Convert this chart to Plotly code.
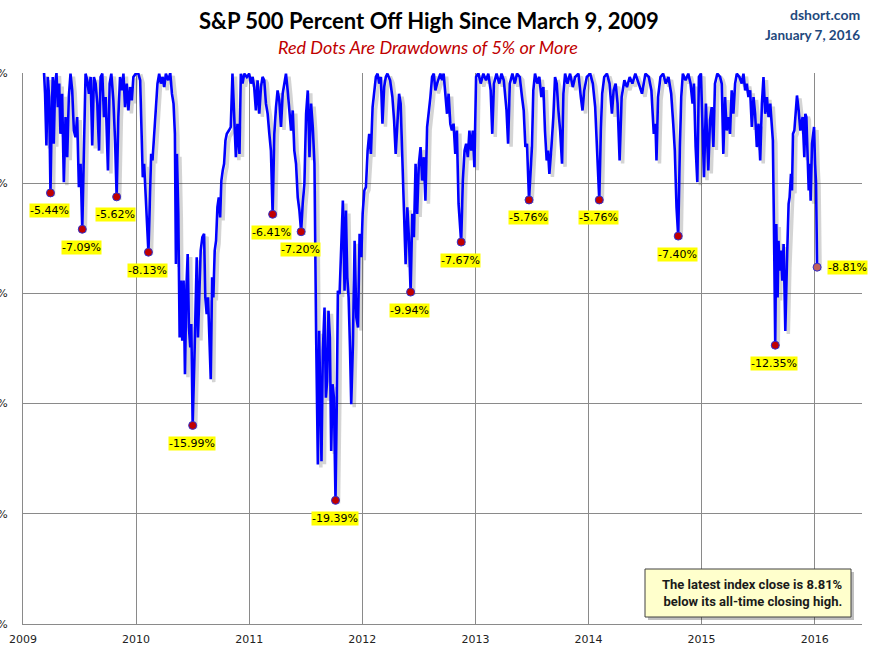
import plotly.graph_objects as go

# ---------------- data (fractional year, percent off high) ----------------
seg_2009 = [
    (2009.186, 0.0), (2009.195, -0.94), (2009.207, -3.29), (2009.219, -0.18), (2009.231, -1.09),
    (2009.243, -5.44), (2009.254, -1.85), (2009.263, -0.18), (2009.272, -3.21), (2009.284, -0.48),
    (2009.296, 0.0), (2009.308, -1.55), (2009.320, -0.48), (2009.331, -2.76), (2009.346, -0.94),
    (2009.361, -4.95), (2009.376, -2.00), (2009.391, -3.82), (2009.405, -1.09), (2009.420, -0.03),
    (2009.435, -0.79), (2009.450, -2.61), (2009.464, -2.91), (2009.479, -2.00), (2009.494, -5.18),
    (2009.509, -4.12), (2009.524, -7.09), (2009.538, -4.12), (2009.553, -0.03), (2009.568, -0.33),
    (2009.583, -0.94), (2009.598, -0.18), (2009.612, -3.29), (2009.627, -0.18), (2009.642, -0.48),
    (2009.657, -1.39), (2009.672, -3.52), (2009.686, -0.18), (2009.701, -0.03), (2009.716, -2.00),
    (2009.731, -1.09), (2009.751, -4.42), (2009.766, -0.48), (2009.781, -0.03), (2009.799, -1.24),
    (2009.814, -3.06), (2009.828, -5.62), (2009.843, -2.00), (2009.858, -0.18), (2009.873, -0.79),
    (2009.888, -0.03), (2009.902, -1.55), (2009.917, -0.48), (2009.932, -1.70), (2009.947, -0.64),
    (2009.962, -1.24), (2009.976, -0.18), (2009.997, -0.03),
]
seg_2010 = [
    (2010.018, 0.0), (2010.036, -0.33), (2010.047, -2.61), (2010.059, -4.73), (2010.071, -4.12),
    (2010.083, -5.33), (2010.095, -6.70), (2010.109, -8.13), (2010.121, -5.94), (2010.133, -3.67),
    (2010.145, -3.97), (2010.160, -2.61), (2010.175, -1.85), (2010.189, -0.48), (2010.204, -0.03),
    (2010.219, -0.48), (2010.234, -0.18), (2010.249, -0.64), (2010.263, -0.03), (2010.284, -0.33),
    (2010.302, 0.0), (2010.317, -0.94), (2010.331, -1.39), (2010.343, -2.76), (2010.352, -8.67),
    (2010.361, -3.67), (2010.373, -6.39), (2010.385, -12.00), (2010.396, -9.42), (2010.408, -12.15),
    (2010.420, -9.42), (2010.432, -13.67), (2010.444, -9.88), (2010.456, -8.21), (2010.467, -11.55),
    (2010.479, -12.45), (2010.488, -11.39), (2010.500, -15.99), (2010.518, -12.45), (2010.536, -8.36),
    (2010.547, -12.00), (2010.559, -9.42), (2010.571, -8.06), (2010.586, -7.45), (2010.601, -7.30),
    (2010.612, -10.18), (2010.624, -10.94), (2010.636, -10.18), (2010.648, -12.45), (2010.660, -13.89),
    (2010.672, -9.27), (2010.683, -10.18), (2010.695, -8.06), (2010.707, -7.61), (2010.719, -6.09),
    (2010.731, -5.64), (2010.743, -6.55), (2010.754, -4.88), (2010.766, -4.42), (2010.778, -4.12),
    (2010.790, -3.06), (2010.802, -2.76), (2010.820, -2.61), (2010.837, -2.45), (2010.852, -0.03),
    (2010.867, -2.15), (2010.882, -3.82), (2010.896, -2.30), (2010.914, -3.67), (2010.926, -0.03),
    (2010.941, -0.48), (2010.956, -0.03), (2010.979, -0.18),
]
seg_2011 = [
    (2011.000, -0.03), (2011.015, -0.48), (2011.030, -0.18), (2011.044, -0.64), (2011.059, -1.70),
    (2011.074, -0.33), (2011.089, -1.85), (2011.104, -0.64), (2011.118, -0.18), (2011.133, -0.33),
    (2011.148, -1.39), (2011.163, -1.85), (2011.178, -2.76), (2011.192, -3.52), (2011.207, -6.41),
    (2011.222, -2.76), (2011.237, -1.55), (2011.251, -0.79), (2011.266, -1.24), (2011.281, -2.45),
    (2011.296, -0.94), (2011.311, -0.48), (2011.325, -0.03), (2011.340, -0.79), (2011.355, -1.55),
    (2011.370, -2.61), (2011.385, -1.70), (2011.399, -3.52), (2011.414, -4.12), (2011.429, -5.64),
    (2011.444, -6.24), (2011.459, -7.20), (2011.473, -5.94), (2011.488, -5.03), (2011.503, -1.85),
    (2011.518, -0.79), (2011.533, -3.82), (2011.547, -1.39), (2011.562, -2.45), (2011.577, -4.12),
    (2011.592, -12.00), (2011.607, -17.76), (2011.618, -11.70), (2011.630, -15.03), (2011.639, -17.61),
    (2011.651, -12.61), (2011.666, -10.64), (2011.678, -14.73), (2011.689, -13.97), (2011.701, -10.79),
    (2011.713, -12.00), (2011.725, -17.15), (2011.737, -14.12), (2011.749, -14.73), (2011.763, -19.39),
    (2011.775, -14.73), (2011.784, -9.88), (2011.799, -10.03), (2011.814, -8.06), (2011.828, -5.79),
    (2011.843, -9.88), (2011.855, -6.24), (2011.867, -9.27), (2011.879, -10.18), (2011.891, -12.45),
    (2011.902, -15.03), (2011.917, -12.30), (2011.932, -7.61), (2011.947, -11.09), (2011.962, -11.55),
    (2011.976, -7.30), (2011.991, -8.36),
]
seg_2012 = [
    (2012.003, -6.39), (2012.018, -5.33), (2012.032, -5.18), (2012.047, -3.52), (2012.061, -2.76),
    (2012.076, -3.67), (2012.091, -1.55), (2012.105, -0.94), (2012.120, -0.18), (2012.135, -0.03),
    (2012.149, -0.48), (2012.164, -0.18), (2012.178, -2.30), (2012.193, -0.64), (2012.208, -0.18),
    (2012.222, -0.03), (2012.246, -0.33), (2012.266, -1.09), (2012.281, -2.15), (2012.295, -3.67),
    (2012.310, -2.00), (2012.325, -0.94), (2012.339, -1.39), (2012.354, -4.12), (2012.368, -5.94),
    (2012.383, -8.67), (2012.398, -6.09), (2012.412, -7.45), (2012.427, -9.94), (2012.442, -6.39),
    (2012.456, -7.45), (2012.471, -4.12), (2012.485, -6.39), (2012.500, -4.12), (2012.515, -3.36),
    (2012.529, -4.88), (2012.544, -3.82), (2012.558, -5.79), (2012.573, -2.45), (2012.588, -1.85),
    (2012.602, -1.09), (2012.617, -0.18), (2012.632, -0.03), (2012.646, -0.79), (2012.661, -0.48),
    (2012.690, -0.03), (2012.705, -0.33), (2012.719, -0.03), (2012.734, -1.09), (2012.749, -1.85),
    (2012.763, -0.94), (2012.778, -2.30), (2012.792, -2.61), (2012.807, -2.30), (2012.822, -3.67),
    (2012.836, -2.61), (2012.851, -5.94), (2012.874, -7.67), (2012.889, -4.88), (2012.904, -3.52),
    (2012.918, -3.21), (2012.933, -3.82), (2012.947, -2.61), (2012.962, -3.52), (2012.977, -2.61),
    (2012.991, -4.27),
]
seg_2013 = [
    (2013.006, -0.18), (2013.026, 0.0), (2013.047, -0.48), (2013.070, -0.03), (2013.094, -0.33),
    (2013.114, -0.03), (2013.135, -0.79), (2013.149, -2.76), (2013.164, -0.48), (2013.187, -0.03),
    (2013.211, -0.48), (2013.231, -0.03), (2013.251, -0.33), (2013.275, -1.70), (2013.289, -3.21),
    (2013.304, -0.48), (2013.327, -0.03), (2013.348, -0.48), (2013.368, -0.03), (2013.392, -0.18),
    (2013.412, -1.09), (2013.427, -1.70), (2013.442, -3.36), (2013.456, -3.21), (2013.474, -5.76),
    (2013.500, -3.36), (2013.512, -0.79), (2013.527, -0.03), (2013.547, -0.48), (2013.565, -0.18),
    (2013.583, -1.09), (2013.601, -0.64), (2013.615, -2.61), (2013.630, -3.97), (2013.642, -3.52),
    (2013.654, -4.58), (2013.672, -3.36), (2013.689, -2.00), (2013.704, -0.18), (2013.719, -0.48),
    (2013.734, -1.70), (2013.749, -2.61), (2013.766, -4.12), (2013.778, -0.94), (2013.793, -0.03),
    (2013.814, -0.48), (2013.837, -0.03), (2013.861, -0.64), (2013.882, -0.18), (2013.911, -0.03),
    (2013.932, -1.09), (2013.947, -1.70), (2013.962, -0.79), (2013.985, -0.18),
]
seg_2014 = [
    (2014.015, -0.03), (2014.038, -0.48), (2014.059, -1.55), (2014.074, -3.06), (2014.083, -4.12),
    (2014.095, -5.76), (2014.109, -2.61), (2014.121, -0.94), (2014.139, -0.18), (2014.163, -0.03),
    (2014.186, -0.48), (2014.207, -1.85), (2014.222, -0.79), (2014.240, -0.48), (2014.257, -1.39),
    (2014.275, -3.97), (2014.293, -1.09), (2014.317, -0.33), (2014.340, -0.64), (2014.364, -0.18),
    (2014.388, -0.48), (2014.414, -0.03), (2014.444, -0.48), (2014.473, -0.94), (2014.503, -0.03),
    (2014.533, -0.18), (2014.556, -0.79), (2014.577, -2.76), (2014.592, -2.30), (2014.601, -3.97),
    (2014.615, -1.09), (2014.636, -0.18), (2014.660, -0.03), (2014.683, -0.48), (2014.707, -0.18),
    (2014.731, -0.94), (2014.749, -2.30), (2014.763, -3.52), (2014.778, -6.09), (2014.793, -7.40),
    (2014.808, -3.36), (2014.820, -1.09), (2014.834, -0.03), (2014.858, -0.33), (2014.882, -0.03),
    (2014.902, -0.48), (2014.920, -1.39), (2014.932, -0.48), (2014.947, -3.36), (2014.962, -4.95),
    (2014.976, -0.18), (2014.994, -0.03),
]
seg_2015 = [
    (2015.009, -2.61), (2015.021, -4.73), (2015.038, -1.39), (2015.059, -4.42), (2015.074, -2.15),
    (2015.089, -1.55), (2015.104, -3.36), (2015.118, -0.48), (2015.139, -0.03), (2015.163, -0.18),
    (2015.178, -0.48), (2015.192, -3.67), (2015.207, -1.09), (2015.222, -2.61), (2015.237, -2.00),
    (2015.251, -2.76), (2015.266, -0.79), (2015.281, -1.85), (2015.296, -0.48), (2015.311, -0.03),
    (2015.334, -0.18), (2015.355, -0.48), (2015.370, -0.03), (2015.385, -0.79), (2015.399, -0.48),
    (2015.414, -1.09), (2015.429, -0.79), (2015.444, -2.45), (2015.459, -1.09), (2015.473, -1.85),
    (2015.488, -3.36), (2015.503, -2.30), (2015.518, -3.97), (2015.533, -1.39), (2015.547, -0.18),
    (2015.562, -1.85), (2015.577, -1.09), (2015.592, -2.00), (2015.607, -1.39), (2015.621, -2.61),
    (2015.630, -3.06), (2015.639, -6.70), (2015.651, -12.35), (2015.660, -6.85), (2015.672, -10.18),
    (2015.680, -7.61), (2015.689, -8.97), (2015.701, -8.06), (2015.713, -9.42), (2015.725, -7.76),
    (2015.740, -11.70), (2015.754, -8.67), (2015.769, -5.94), (2015.778, -5.64), (2015.790, -4.58),
    (2015.799, -5.33), (2015.808, -2.76), (2015.820, -2.61), (2015.831, -1.55), (2015.843, -1.02),
    (2015.858, -1.70), (2015.873, -2.61), (2015.882, -2.30), (2015.893, -2.00), (2015.908, -3.82),
    (2015.917, -1.85), (2015.926, -2.00), (2015.938, -4.12), (2015.947, -5.33), (2015.956, -4.12),
    (2015.964, -5.79), (2015.976, -3.21), (2015.985, -2.61), (2015.994, -2.45),
]
seg_2016 = [(2016.003, -4.12), (2016.012, -5.03), (2016.021, -8.81)]

dot_years = [2009.243, 2009.524, 2009.828, 2010.109, 2010.500, 2011.207, 2011.459, 2011.763,
             2012.427, 2012.874, 2013.474, 2014.095, 2014.793, 2015.651, 2016.021]
dot_values = [-5.44, -7.09, -5.62, -8.13, -15.99, -6.41, -7.20, -19.39,
              -9.94, -7.67, -5.76, -5.76, -7.40, -12.35, -8.81]

year_ticks = [2009, 2010, 2011, 2012, 2013, 2014, 2015, 2016]
year_labels = ["2009", "2010", "2011", "2012", "2013", "2014", "2015", "2016"]
pct_ticks = [0, -5, -10, -15, -20, -25]
pct_labels = ["0%", "-5%", "-10%", "-15%", "-20%", "-25%"]

title_text = "S&P 500 Percent Off High Since March 9, 2009"
subtitle_text = "Red Dots Are Drawdowns of 5% or More"
source_text = "dshort.com"
date_text = "January 7, 2016"
note_text = "The latest index close is 8.81%<br>below its all-time closing high."

# ---------------- build ----------------
points = seg_2009 + seg_2010 + seg_2011 + seg_2012 + seg_2013 + seg_2014 + seg_2015 + seg_2016
xs = [p[0] for p in points]
ys = [p[1] for p in points]

W, H = 871, 653
ML, MR, MT, MB = 23, 9, 73, 29
X_RANGE = [2009.0, 2016.418]
Y_RANGE = [-25.0, 0.0]
pw = W - ML - MR
ph = H - MT - MB
yr_per_px = (X_RANGE[1] - X_RANGE[0]) / pw
pct_per_px = (Y_RANGE[1] - Y_RANGE[0]) / ph
sh = 3  # shadow offset in px

fig = go.Figure()

# drop shadow of the line
fig.add_trace(go.Scatter(x=xs, y=ys, mode="lines", xaxis="x2", yaxis="y2",
                         line=dict(color="rgba(60,60,60,0.22)", width=3.5),
                         hoverinfo="skip", showlegend=False))
# main line
fig.add_trace(go.Scatter(x=xs, y=ys, mode="lines", xaxis="x3", yaxis="y3",
                         line=dict(color="#0000FF", width=2.6),
                         showlegend=False))
# dots
dot_colors = ["#C00000"] * (len(dot_values) - 1) + ["#C0605A"]
fig.add_trace(go.Scatter(x=dot_years, y=dot_values, mode="markers", xaxis="x3", yaxis="y3",
                         marker=dict(size=8, color=dot_colors,
                                     line=dict(color="#3030D0", width=1)),
                         showlegend=False))

annotations = []
for i, (dx, dv) in enumerate(zip(dot_years, dot_values)):
    last = i == len(dot_values) - 1
    annotations.append(dict(
        x=dx, y=dv, xref="x", yref="y", text=f"{dv:.2f}%", showarrow=False,
        xanchor="left" if last else "center", yanchor="middle",
        xshift=10 if last else -1, yshift=0 if last else -18,
        bgcolor="#FFFF00", borderpad=0,
        font=dict(family="DejaVu Sans, Verdana, sans-serif", size=11, color="#000000")))


def px_x(p):
    return (p - ML) / pw


def px_y(p):
    return (H - MB - p) / ph


annotations += [
    dict(text=title_text, x=px_x(429), y=px_y(20), xref="paper", yref="paper",
         showarrow=False, xanchor="center", yanchor="middle",
         font=dict(family="Lato, Noto Sans, sans-serif", size=22, color="#000000", weight="bold")),
    dict(text=subtitle_text, x=px_x(428), y=px_y(47), xref="paper", yref="paper",
         showarrow=False, xanchor="center", yanchor="middle",
         font=dict(family="Lato, Noto Sans, sans-serif", size=18, color="#C00000", style="italic")),
    dict(text=source_text, x=px_x(862), y=px_y(15), xref="paper", yref="paper",
         showarrow=False, xanchor="right", yanchor="middle",
         font=dict(family="Lato, Noto Sans, sans-serif", size=14, color="#1F497D", weight="bold")),
    dict(text=date_text, x=px_x(862), y=px_y(35), xref="paper", yref="paper",
         showarrow=False, xanchor="right", yanchor="middle",
         font=dict(family="Lato, Noto Sans, sans-serif", size=13.5, color="#1F497D", weight="bold")),
    dict(text=note_text, x=px_x(845), y=px_y(593), xref="paper", yref="paper",
         showarrow=False, xanchor="right", yanchor="middle", align="right",
         font=dict(family="Liberation Sans Narrow, Arial Narrow, Roboto, sans-serif", size=13,
                   color="#1a1a1a", weight="bold")),
]

shapes = [
    dict(type="rect", xref="paper", yref="paper",
         x0=px_x(648), x1=px_x(854), y0=px_y(620), y1=px_y(572),
         fillcolor="rgba(0,0,0,0.25)", line=dict(width=0), layer="above"),
    dict(type="rect", xref="paper", yref="paper",
         x0=px_x(645), x1=px_x(851), y0=px_y(617), y1=px_y(569),
         fillcolor="#FFFFCC", line=dict(color="#404040", width=1), layer="above"),
]

grid_col = "#8A8A8A"
tick_font = dict(family="DejaVu Sans, Tahoma, sans-serif", size=11, color="#222222")

fig.update_layout(
    width=W, height=H,
    margin=dict(l=ML, r=MR, t=MT, b=MB, autoexpand=False),
    paper_bgcolor="white", plot_bgcolor="white",
    template="none",
    showlegend=False,
    xaxis=dict(range=X_RANGE, tickvals=year_ticks, ticktext=year_labels,
               showgrid=True, gridcolor=grid_col, gridwidth=1, zeroline=False,
               showline=True, linecolor=grid_col, linewidth=1, ticks="",
               ticklabelstandoff=5, tickfont=tick_font, automargin=False),
    yaxis=dict(range=Y_RANGE, tickvals=pct_ticks, ticktext=pct_labels,
               showgrid=True, gridcolor=grid_col, gridwidth=1, zeroline=False,
               showline=True, linecolor=grid_col, linewidth=1, ticks="",
               ticklabelstandoff=12, tickfont=tick_font, automargin=False),
    xaxis2=dict(overlaying="x", visible=False,
                range=[X_RANGE[0] - sh * yr_per_px, X_RANGE[1] - sh * yr_per_px]),
    yaxis2=dict(overlaying="y", visible=False,
                range=[Y_RANGE[0] + sh * pct_per_px, Y_RANGE[1] + sh * pct_per_px]),
    xaxis3=dict(overlaying="x", visible=False, range=X_RANGE),
    yaxis3=dict(overlaying="y", visible=False, range=Y_RANGE),
    annotations=annotations,
    shapes=shapes,
)

fig.write_html("out.html",
               config={"displayModeBar": False},
               post_script="document.body.style.margin='0';document.body.style.overflow='hidden';")
